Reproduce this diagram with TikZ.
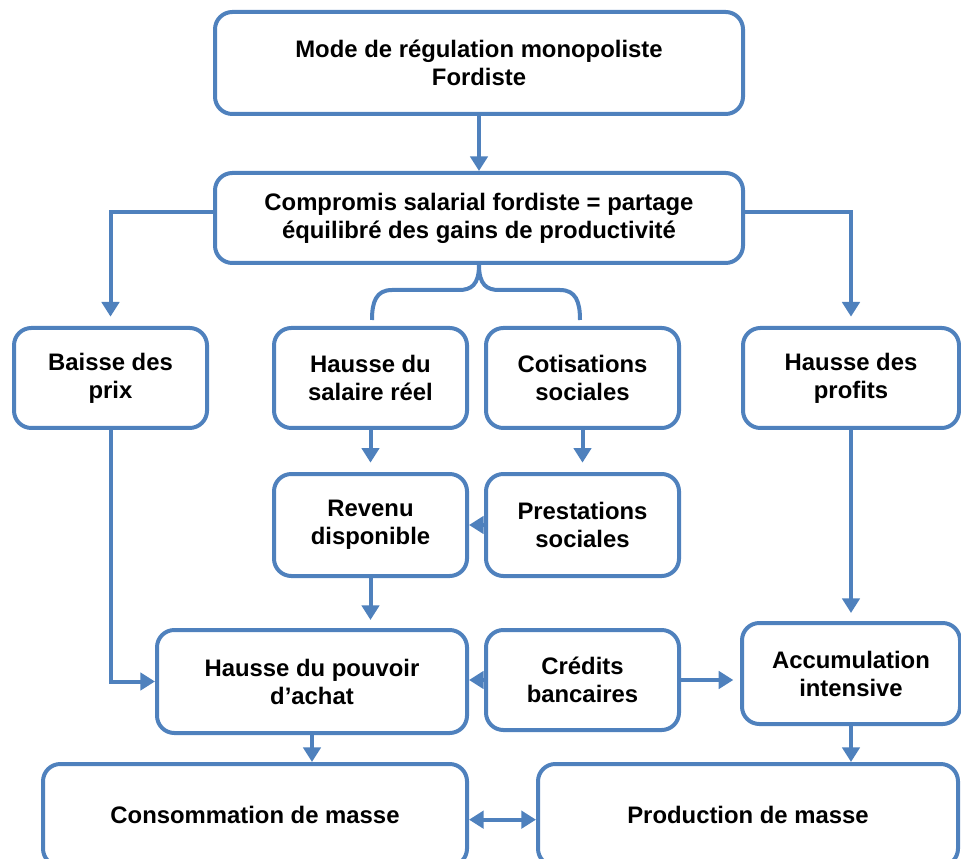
\documentclass[tikz,border=0pt]{standalone}
\usepackage{fontspec}
\setmainfont{Liberation Sans}
\usetikzlibrary{arrows.meta}
\definecolor{bl}{RGB}{79,129,189}
\begin{document}
\begin{tikzpicture}[x=0.75pt,y=-0.75pt,
  box/.style={draw=bl,line width=3pt,rounded corners=13pt,align=center,inner sep=0pt,
    font=\fontsize{17.9}{21}\selectfont\bfseries,text=black},
  conn/.style={draw=bl,line width=3pt},
  arr/.style={conn,-{Triangle[length=11pt,width=13pt]}},
  darr/.style={conn,{Triangle[length=11pt,width=13pt]}-{Triangle[length=11pt,width=13pt]}}]
\useasboundingbox (0,0) rectangle (961,859);
\clip (0,0) rectangle (961,859);
\node[box,minimum width=396pt,minimum height=76.5pt] (mode) at (479,63) {Mode de régulation monopoliste\\Fordiste};
\node[box,minimum width=396pt,minimum height=67.5pt] (comp) at (479,218) {Compromis salarial fordiste = partage\\équilibré des gains de productivité};
\node[box,minimum width=144.75pt,minimum height=75pt] (baisse) at (110.5,378) {Baisse des\\prix};
\node[box,minimum width=144.75pt,minimum height=75pt] (hsal) at (370.5,378) {Hausse du\\salaire réel};
\node[box,minimum width=144.75pt,minimum height=75pt] (cotis) at (582.5,378) {Cotisations\\sociales};
\node[box,minimum width=162pt,minimum height=75pt] (hprof) at (851,378) {Hausse des\\profits};
\node[box,minimum width=144.75pt,minimum height=76.5pt] (revenu) at (370.5,525) {Revenu\\disponible};
\node[box,minimum width=144.75pt,minimum height=76.5pt] (prest) at (582.5,525) {Prestations\\sociales};
\node[box,minimum width=232.5pt,minimum height=77.25pt] (hpa) at (312,681.5) {Hausse du pouvoir\\d’achat};
\node[box,minimum width=144.75pt,minimum height=75pt] (credits) at (582.5,680) {Crédits\\bancaires};
\node[box,minimum width=163.5pt,minimum height=75.75pt] (accum) at (851,673.5) {Accumulation\\intensive};
\node[box,minimum width=318pt,minimum height=76.5pt] (conso) at (255,815) {Consommation de masse};
\node[box,minimum width=315pt,minimum height=76.5pt] (prod) at (748,815) {Production de masse};
\coordinate (bL) at (372,320);
\coordinate (bR) at (580,320);
\draw[arr] (mode.south) -- (comp.north);
\draw[arr,shorten >=7pt] ([yshift=4.5pt]comp.west) -| (baisse.north);
\draw[arr,shorten >=7pt] ([yshift=4.5pt]comp.east) -| (hprof.north);
\draw[conn] (comp.south) .. controls +(0,20) and +(12,0) .. (459,290) -- (392,290) .. controls +(-16,0) and +(0,-18) .. (bL);
\draw[conn] (comp.south) .. controls +(0,20) and +(-12,0) .. (499,290) -- (560,290) .. controls +(16,0) and +(0,-18) .. (bR);
\draw[arr,shorten >=7pt] (hsal.south) -- (revenu.north);
\draw[arr,shorten >=7pt] (cotis.south) -- (prest.north);
\draw[arr] (prest.west) -- (revenu.east);
\draw[arr,shorten >=6pt] (revenu.south) -- (revenu.south |- hpa.north);
\draw[arr] (baisse.south) |- (hpa.west);
\draw[arr] (credits.west) -- (credits.west -| hpa.east);
\draw[arr,shorten >=5pt] (credits.east) -- (credits.east -| accum.west);
\draw[arr,shorten >=6pt] (hprof.south) -- (accum.north);
\draw[arr] (hpa.south) -- (hpa.south |- conso.north);
\draw[arr] (accum.south) -- (accum.south |- prod.north);
\draw[darr] ([yshift=-3.5pt]conso.east) -- ([yshift=-3.5pt]conso.east -| prod.west);
\end{tikzpicture}
\end{document}
